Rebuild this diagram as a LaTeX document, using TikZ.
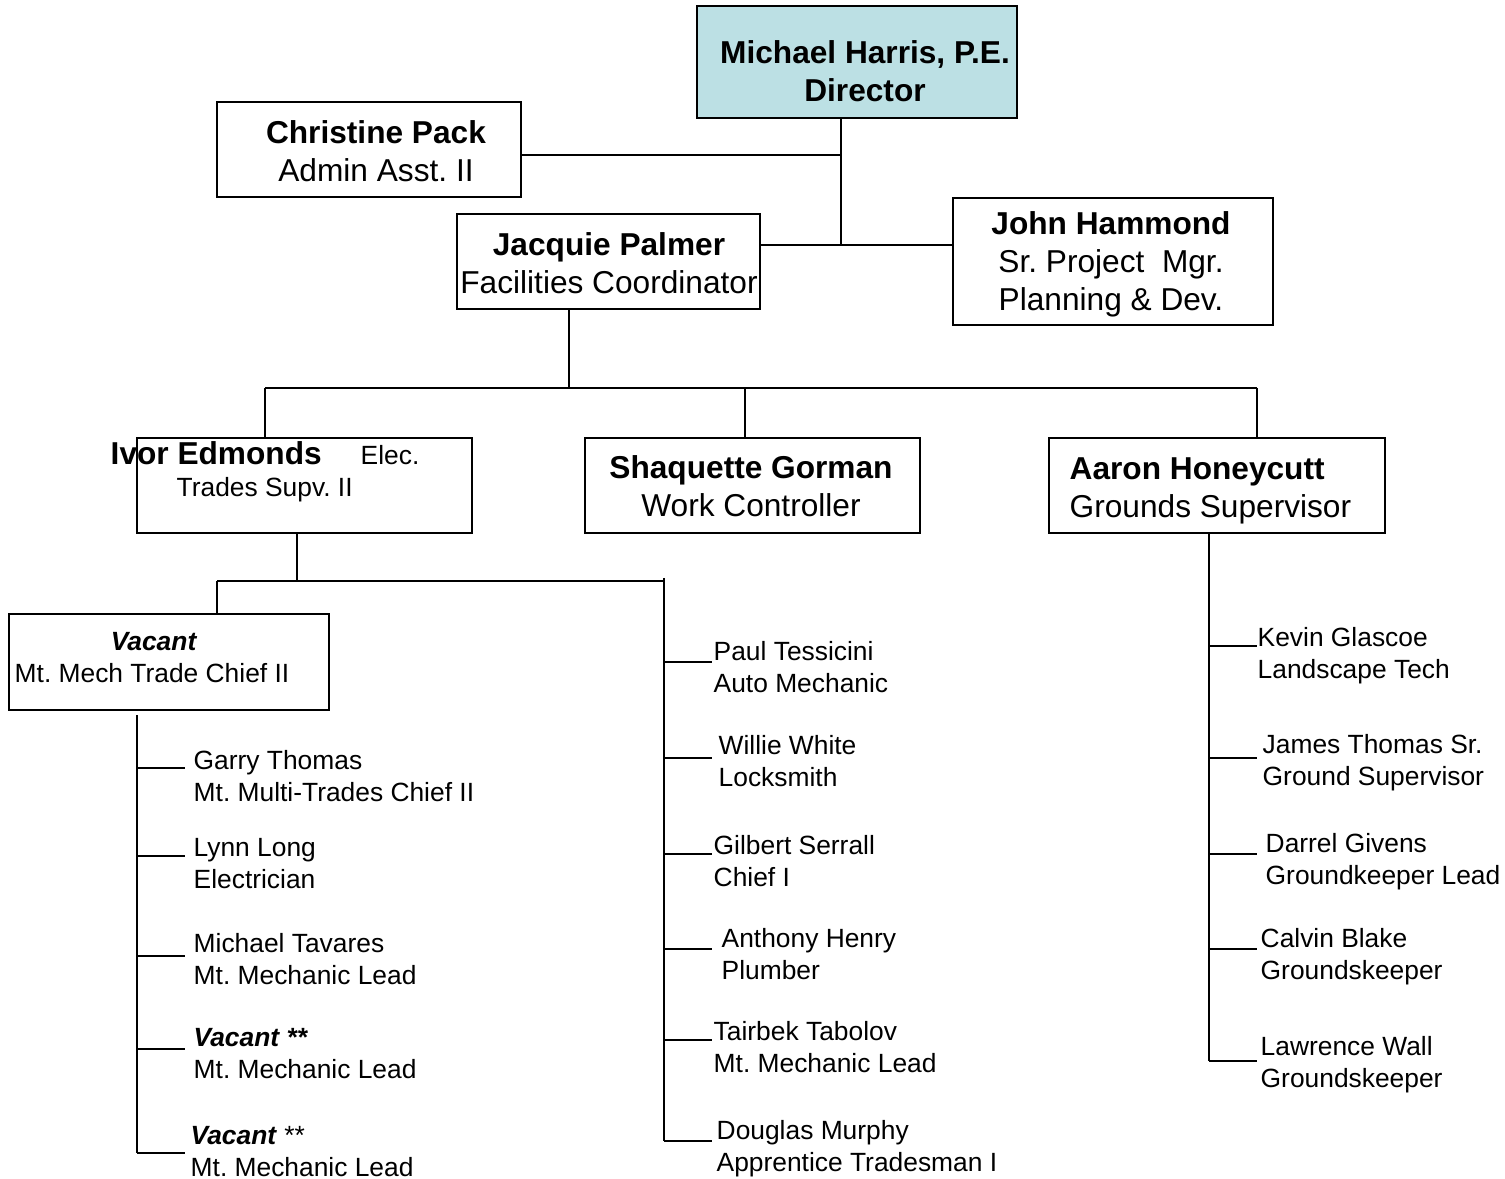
\documentclass[tikz,border=0pt]{standalone}
\usepackage{fontspec}
\setmainfont{Liberation Sans}
\usepackage{xcolor}
\definecolor{dirblue}{RGB}{188,224,228}
\tikzset{
  box/.style={draw, line width=0.75pt, inner sep=0pt},
  big/.style={font=\fontsize{9}{10.8}\selectfont, align=center, inner sep=0pt},
  small/.style={font=\fontsize{7.5}{9.1}\selectfont, align=left, inner sep=0pt},
  listitem/.style={small, anchor=base west, yshift=-9.1pt},
  link/.style={line width=0.6pt}
}

\begin{document}
\frenchspacing
\begin{tikzpicture}[x=0.01cm, y=-0.01cm]
\useasboundingbox (0,0) rectangle (1505,1179);

% boxes
\node[box, fill=dirblue, minimum width=3.2cm, minimum height=1.12cm] (mh) at (857,62) {};
\node[big] (mhT) at (865,71) {\textbf{Michael Harris, P.E.}\\\textbf{Director}};
\node[box, minimum width=3.04cm, minimum height=0.95cm] (cp) at (369,149.5) {};
\node[big] (cpT) at (376,151) {\textbf{Christine Pack}\\Admin Asst. II};
\node[box, minimum width=3.03cm, minimum height=0.95cm] (jp) at (608.5,261.5) {};
\node[big] (jpT) at (609,263) {\textbf{Jacquie Palmer}\\Facilities Coordinator};
\node[box, minimum width=3.2cm, minimum height=1.27cm] (jh) at (1113,261.5) {};
\node[big] (jhT) at (1111,264) {\textbf{John Hammond}\\Sr. Project~ Mgr.\\Planning \& Dev.};

\node[box, minimum width=3.35cm, minimum height=0.95cm] (ie) at (304.5,485.5) {};
\node[big, anchor=base west] (ieN) at (110,464.5) {\textbf{Ivor Edmonds}};
\node[small, anchor=base west] (ieE) at (360,464.5) {Elec.};
\node[small, anchor=base west] (ieR) at (176,497) {Trades Supv. II};
\node[box, minimum width=3.35cm, minimum height=0.95cm] (sg) at (752.5,485.5) {};
\node[big] (sgT) at (751,486.5) {\textbf{Shaquette Gorman}\\Work Controller};
\node[box, minimum width=3.36cm, minimum height=0.95cm] (ah) at (1217,485.5) {};
\node[big, align=left, anchor=west] (ahT) at (1069,491) {\textbf{Aaron Honeycutt}\\Grounds Supervisor};

\node[box, minimum width=3.2cm, minimum height=0.96cm] (vc) at (169,662) {};
\node[small, anchor=base] (vcN) at (154,650.5) {\textbf{\textit{Vacant}}};
\node[small, anchor=base west] (vcR) at (14,682.5) {Mt. Mech Trade Chief II};

% upper links
\coordinate (hub) at (841,245);
\draw[link] (mh.south -| hub) -- (hub);
\draw[link] (cp.east |- 0,155) -- (hub |- 0,155);
\draw[link] (jp.east |- hub) -- (jh.west |- hub);

\coordinate (jb) at (569,388);
\coordinate (b1) at (265,388);
\coordinate (b2) at (745,388);
\coordinate (b3) at (1257,388);
\draw[link] (jp.south -| jb) -- (jb);
\draw[link] (b1) -- (b3);
\draw[link] (b1) -- (ie.north -| b1);
\draw[link] (b2) -- (sg.north -| b2);
\draw[link] (b3) -- (ah.north -| b3);

\coordinate (ib) at (297,581);
\coordinate (vb) at (217,581);
\coordinate (mtop) at (664,578);
\draw[link] (ie.south -| ib) -- (ib);
\draw[link] (vb) -- (664,581);
\draw[link] (vb) -- (vc.north -| vb);

% left list
\coordinate (ltop) at (137,715);
\foreach \ty/\by/\tx/\a/\b [count=\i] in {
    768/769/193/Garry Thomas/Mt. Multi-Trades Chief II,
    856/856/193/Lynn Long/Electrician,
    956/952/193/Michael Tavares/Mt. Mechanic Lead,
    1049/1046/193/{\textbf{\textit{Vacant **}}}/Mt. Mechanic Lead,
    1153/1144/190/{\textbf{\textit{Vacant}} **}/Mt. Mechanic Lead}
{
  \coordinate (lt\i) at (185,\ty);
  \node[listitem] (lp\i) at (\tx,\by) {\a\\\b};
  \draw[link] (ltop |- lt\i) -- (lt\i);
}
\draw[link] (ltop) -- (ltop |- lt5);

% middle list
\foreach \ty/\by/\tx/\a/\b [count=\i] in {
    662/660/713/Paul Tessicini/Auto Mechanic,
    758/754/718/Willie White/Locksmith,
    854/854/713/Gilbert Serrall/Chief I,
    949/947/721/Anthony Henry/Plumber,
    1040/1040/713/Tairbek Tabolov/Mt. Mechanic Lead,
    1141/1139/716/Douglas Murphy/Apprentice Tradesman I}
{
  \coordinate (mt\i) at (712,\ty);
  \node[listitem] (mp\i) at (\tx,\by) {\a\\\b};
  \draw[link] (mtop |- mt\i) -- (mt\i);
}
\draw[link] (mtop) -- (mtop |- mt6);

% right list
\coordinate (rbus) at (1209,1061);
\foreach \ty/\by/\tx/\a/\b [count=\i] in {
    646/646/1257/Kevin Glascoe/Landscape Tech,
    758/753/1262/James Thomas Sr./Ground Supervisor,
    854/852/1265/Darrel Givens/Groundkeeper Lead,
    949/947/1260/Calvin Blake/Groundskeeper,
    1061/1055/1260/Lawrence Wall/Groundskeeper}
{
  \coordinate (rt\i) at (1257,\ty);
  \node[listitem] (rp\i) at (\tx,\by) {\a\\\b};
  \draw[link] (rbus |- rt\i) -- (rt\i);
}
\draw[link] (ah.south -| rbus) -- (rbus);

\end{tikzpicture}
\end{document}
